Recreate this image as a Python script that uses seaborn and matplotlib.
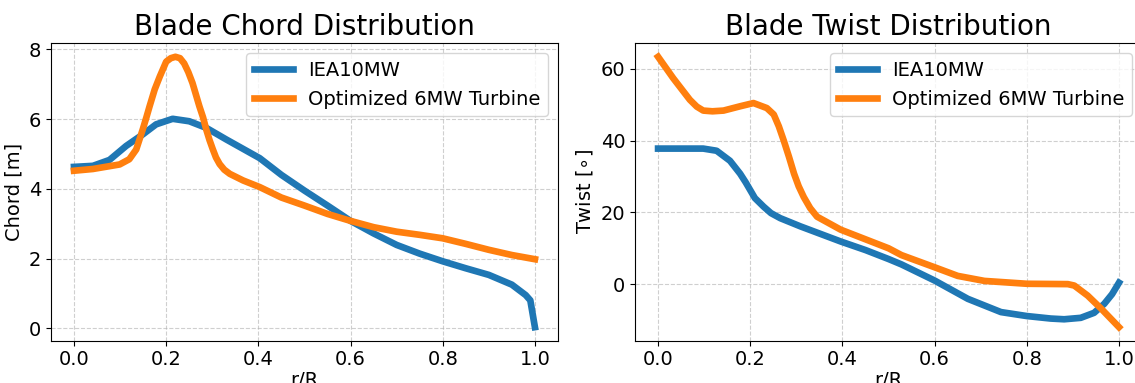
import matplotlib

matplotlib.use("Agg")
import matplotlib.pyplot as plt
import seaborn as sns

BLUE = "#1f77b4"
ORANGE = "#ff7f0e"

# chord distribution
r_chord_iea = [0.0, 0.041, 0.077, 0.113, 0.149, 0.178, 0.214, 0.25, 0.287, 0.33, 0.403,
               0.45, 0.5, 0.55, 0.6, 0.65, 0.7, 0.75, 0.8, 0.85, 0.9, 0.95, 0.98, 0.99, 1.0]
chord_iea = [4.63, 4.66, 4.83, 5.23, 5.56, 5.85, 6.01, 5.94, 5.75, 5.42, 4.88,
             4.4, 3.95, 3.52, 3.08, 2.72, 2.39, 2.14, 1.92, 1.72, 1.53, 1.25, 0.95, 0.8, 0.03]

r_chord_opt = [0.0, 0.041, 0.099, 0.12, 0.135, 0.149, 0.157, 0.164, 0.175, 0.186, 0.2,
               0.21, 0.22, 0.23, 0.239, 0.248, 0.257, 0.272, 0.28, 0.287, 0.294, 0.301,
               0.308, 0.316, 0.326, 0.338, 0.367, 0.403, 0.45, 0.5,
               0.55, 0.6, 0.65, 0.7, 0.75, 0.8, 0.85, 0.9, 0.95, 1.0]
chord_opt = [4.52, 4.57, 4.70, 4.85, 5.13, 5.7, 6.05, 6.37, 6.85, 7.22, 7.65,
             7.75, 7.79, 7.75, 7.6, 7.35, 7.04, 6.37, 6.05, 5.7, 5.4, 5.14,
             4.9, 4.71, 4.55, 4.43, 4.24, 4.05, 3.75, 3.52,
             3.28, 3.08, 2.9, 2.77, 2.68, 2.58, 2.42, 2.25, 2.1, 1.98]

# twist distribution
r_twist_iea = [0.0, 0.098, 0.127, 0.156, 0.178, 0.19, 0.2, 0.21, 0.229, 0.245, 0.265,
               0.309, 0.396, 0.45, 0.5, 0.528, 0.6, 0.672, 0.744, 0.8, 0.852, 0.881,
               0.917, 0.946, 0.968, 0.985, 1.0]
twist_iea = [37.8, 37.8, 37.2, 34.4, 30.8, 28.4, 26.2, 24.0, 21.6, 19.8, 18.4,
             16.1, 11.9, 9.5, 7.0, 5.5, 1.0, -4.1, -7.8, -8.9, -9.6, -9.8,
             -9.4, -8.0, -5.5, -2.8, 0.4]

r_twist_opt = [0.0, 0.033, 0.069, 0.084, 0.098, 0.118, 0.142, 0.178, 0.207, 0.236, 0.251,
               0.262, 0.273, 0.284, 0.295, 0.305, 0.316, 0.33, 0.345, 0.396, 0.45, 0.5,
               0.528, 0.6, 0.65, 0.708, 0.8, 0.889, 0.903, 0.932, 0.961, 1.0]
twist_opt = [63.4, 57.4, 51.4, 49.5, 48.4, 48.2, 48.4, 49.6, 50.5, 49.1, 47.3,
             44.0, 39.9, 35.5, 30.8, 27.3, 24.3, 21.2, 18.8, 15.2, 12.5, 10.0,
             8.1, 4.7, 2.3, 0.9, 0.1, 0.0, -0.4, -3.2, -6.8, -12.0]

LABELS = ["IEA10MW", "Optimized 6MW Turbine"]
X_TICKS = [0.0, 0.2, 0.4, 0.6, 0.8, 1.0]


def draw_panel(ax, x1, y1, x2, y2, title, ylabel):
    sns.lineplot(x=x1, y=y1, ax=ax, color=BLUE, linewidth=4.8, label=LABELS[0])
    sns.lineplot(x=x2, y=y2, ax=ax, color=ORANGE, linewidth=4.8, label=LABELS[1])
    ax.set_title(title, fontsize=20)
    ax.set_xlabel("r/R", fontsize=14, labelpad=1)
    ax.set_ylabel(ylabel, fontsize=14)
    ax.set_xticks(X_TICKS)
    ax.tick_params(labelsize=14)
    ax.grid(True, linestyle="--", color="#b0b0b0", alpha=0.6)
    ax.legend(loc="upper right", fontsize=14)


fig = plt.figure(figsize=(11.35, 3.83), dpi=100)
ax1 = fig.add_axes([0.0449, 0.1105, 0.4467, 0.7765])
ax2 = fig.add_axes([0.5595, 0.1105, 0.4467, 0.7765])

draw_panel(ax1, r_chord_iea, chord_iea, r_chord_opt, chord_opt,
           "Blade Chord Distribution", "Chord [m]")
draw_panel(ax2, r_twist_iea, twist_iea, r_twist_opt, twist_opt,
           "Blade Twist Distribution", r"Twist [$\circ$]")
ax1.set_yticks([0, 2, 4, 6, 8])
ax2.set_yticks([0, 20, 40, 60])

fig.savefig("out.png", dpi=100)
